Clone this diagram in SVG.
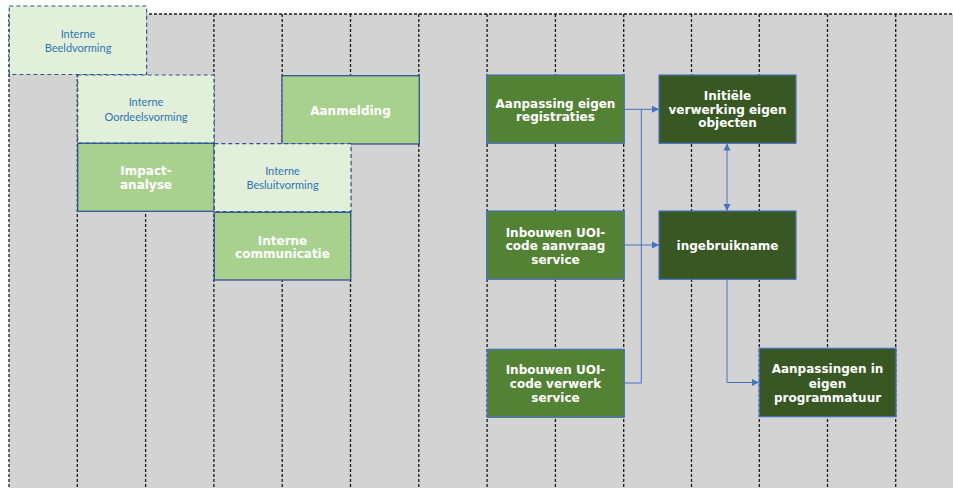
<svg xmlns="http://www.w3.org/2000/svg" width="953" height="488" viewBox="0 0 953 488">
<style>
.grid{stroke:#1a1a1a;stroke-width:1.3;stroke-dasharray:3 2;fill:none}
.light rect{fill:#E2F0D9;stroke:#2F5597;stroke-width:1.2;stroke-dasharray:4 3}
.light text{font-family:Lato,"Liberation Sans",sans-serif;font-size:11px;fill:#2E75B6;text-anchor:middle}
.mid rect{fill:#A9D18E;stroke:#2F5597;stroke-width:1.3}
.green rect{fill:#548235;stroke:#4472C4;stroke-width:1.2}
.dark rect{fill:#385723;stroke:#4472C4;stroke-width:1.2}
.mid text,.green text,.dark text{font-family:"DejaVu Sans",Verdana,sans-serif;font-weight:bold;font-size:12px;fill:#FFFFFF;text-anchor:middle}
.conn{stroke:#4472C4;stroke-width:1;fill:none}
</style>
<defs>
<marker id="arr" markerUnits="userSpaceOnUse" markerWidth="8" markerHeight="8" refX="7" refY="4" orient="auto-start-reverse">
<path d="M0,0.5 L7,4 L0,7.5 z" fill="#4472C4"/>
</marker>
</defs>
<rect x="0" y="0" width="953" height="488" fill="#FFFFFF"/>
<g id="background">
<rect x="9" y="14" width="944" height="474" fill="#D3D3D3"/>
<line class="grid" x1="9" y1="14" x2="953" y2="14"/>
<line class="grid" x1="9" y1="14" x2="9" y2="488"/>
<line class="grid" x1="77.3" y1="14" x2="77.3" y2="488"/>
<line class="grid" x1="145.6" y1="14" x2="145.6" y2="488"/>
<line class="grid" x1="213.9" y1="14" x2="213.9" y2="488"/>
<line class="grid" x1="282.2" y1="14" x2="282.2" y2="488"/>
<line class="grid" x1="350.5" y1="14" x2="350.5" y2="488"/>
<line class="grid" x1="418.8" y1="14" x2="418.8" y2="488"/>
<line class="grid" x1="487.1" y1="14" x2="487.1" y2="488"/>
<line class="grid" x1="555.4" y1="14" x2="555.4" y2="488"/>
<line class="grid" x1="623.7" y1="14" x2="623.7" y2="488"/>
<line class="grid" x1="691.5" y1="14" x2="691.5" y2="488"/>
<line class="grid" x1="759.3" y1="14" x2="759.3" y2="488"/>
<line class="grid" x1="827.5" y1="14" x2="827.5" y2="488"/>
<line class="grid" x1="895.7" y1="14" x2="895.7" y2="488"/>
</g>
<g id="connectors">
<polyline class="conn" points="624,383 641.3,383 641.3,109.3"/>
<line class="conn" x1="624" y1="109.3" x2="659" y2="109.3" marker-end="url(#arr)"/>
<line class="conn" x1="624" y1="245" x2="659" y2="245" marker-end="url(#arr)"/>
<line class="conn" x1="727" y1="143.5" x2="727" y2="211" marker-start="url(#arr)" marker-end="url(#arr)"/>
<polyline class="conn" points="727,279.3 727,382.5 759,382.5" marker-end="url(#arr)"/>
</g>
<g id="n-beeldvorming" class="light">
<rect x="9.3" y="6" width="137.3" height="68.5"/>
<text x="78" y="38">Interne</text>
<text x="78" y="52">Beeldvorming</text>
</g>
<g id="n-oordeelsvorming" class="light">
<rect x="77.7" y="75" width="136.3" height="68"/>
<text x="146" y="106">Interne</text>
<text x="146" y="121">Oordeelsvorming</text>
</g>
<g id="n-aanmelding" class="mid">
<rect x="282" y="75.7" width="137.3" height="68.3"/>
<text x="350.5" y="115">Aanmelding</text>
</g>
<g id="n-impact" class="mid">
<rect x="77.7" y="143.3" width="136.3" height="68"/>
<text x="146" y="175">Impact-</text>
<text x="146" y="188.5">analyse</text>
</g>
<g id="n-besluitvorming" class="light">
<rect x="214.3" y="143.7" width="136.7" height="68"/>
<text x="282.5" y="175">Interne</text>
<text x="282.5" y="189">Besluitvorming</text>
</g>
<g id="n-communicatie" class="mid">
<rect x="214.3" y="212.3" width="136.4" height="67.7"/>
<text x="282.5" y="244.5">Interne</text>
<text x="282.5" y="258">communicatie</text>
</g>
<g id="n-registraties" class="green">
<rect x="486.7" y="75" width="137.6" height="68.3"/>
<text x="555.5" y="107.5">Aanpassing eigen</text>
<text x="555.5" y="121">registraties</text>
</g>
<g id="n-initiele" class="dark">
<rect x="659" y="75" width="137" height="68.3"/>
<text x="727.5" y="99.5">Initiële</text>
<text x="727.5" y="113.5">verwerking eigen</text>
<text x="727.5" y="127">objecten</text>
</g>
<g id="n-aanvraag" class="green">
<rect x="486.7" y="211" width="137.6" height="68.3"/>
<text x="555.5" y="236.5">Inbouwen UOI-</text>
<text x="555.5" y="250">code aanvraag</text>
<text x="555.5" y="264">service</text>
</g>
<g id="n-ingebruikname" class="dark">
<rect x="659" y="211" width="137" height="68.3"/>
<text x="727.5" y="250">ingebruikname</text>
</g>
<g id="n-verwerk" class="green">
<rect x="487.3" y="349.3" width="137" height="68"/>
<text x="555.5" y="374">Inbouwen UOI-</text>
<text x="555.5" y="388">code verwerk</text>
<text x="555.5" y="401.5">service</text>
</g>
<g id="n-programmatuur" class="dark">
<rect x="759.3" y="348.3" width="136.7" height="68.4"/>
<text x="827.5" y="373">Aanpassingen in</text>
<text x="827.5" y="388">eigen</text>
<text x="827.5" y="401.5">programmatuur</text>
</g>
</svg>
